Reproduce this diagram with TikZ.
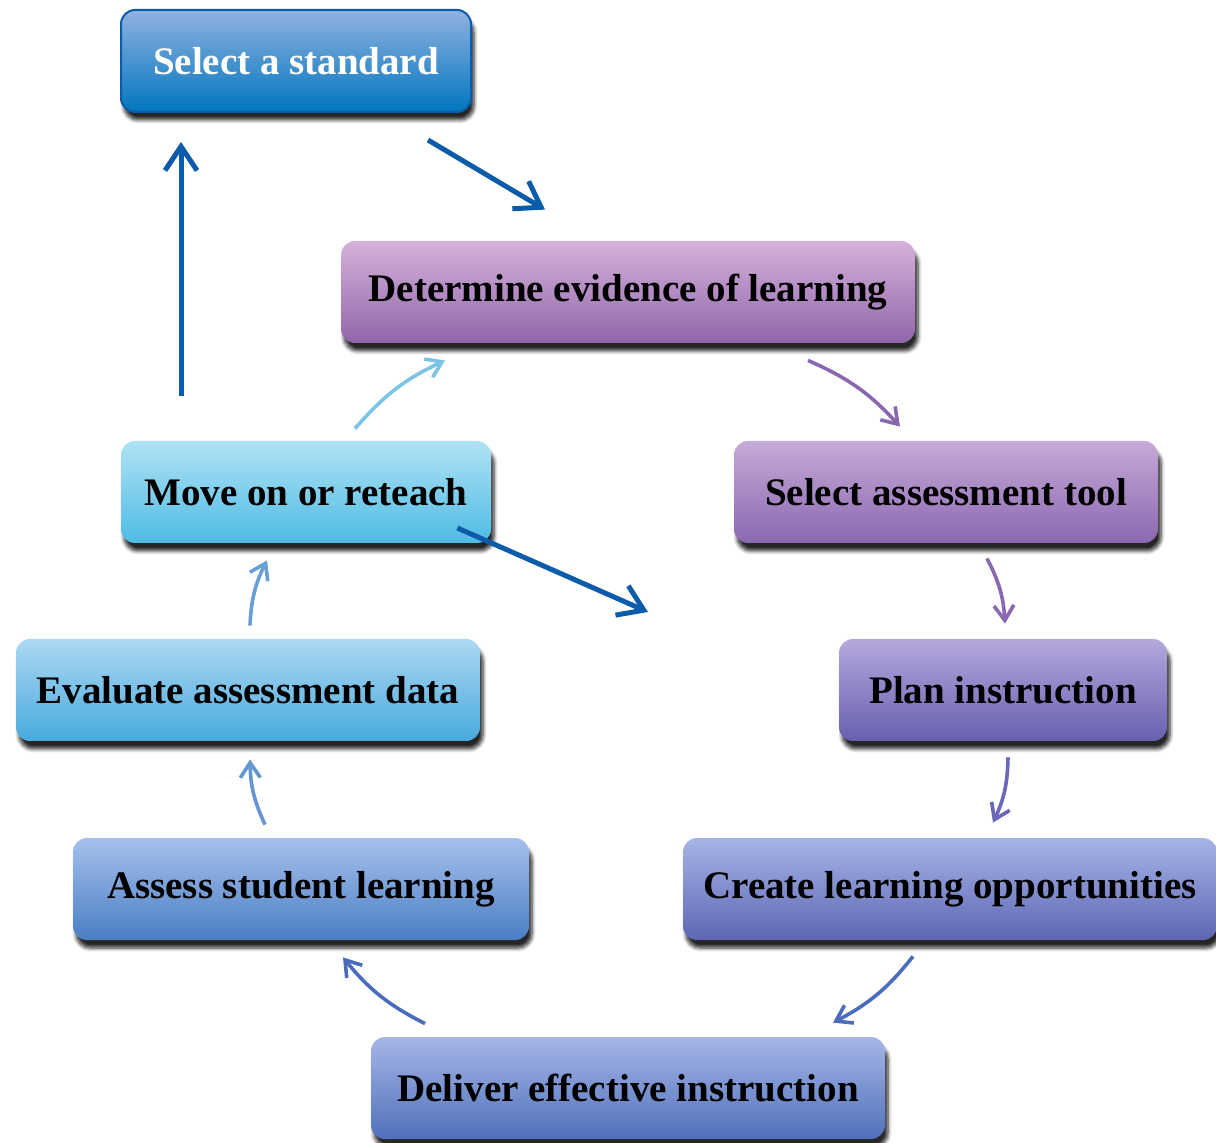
\documentclass[tikz,border=0pt]{standalone}
\usepackage{fontspec}
\setmainfont{Liberation Serif}
\usepackage{tikz}
\usetikzlibrary{arrows.meta,shadows.blur}

\definecolor{stdline}{RGB}{10,92,170}
\definecolor{stdtop}{RGB}{145,178,224}
\definecolor{stdbot}{RGB}{0,118,190}
\definecolor{evidtop}{RGB}{212,178,218}
\definecolor{evidbot}{RGB}{145,102,170}
\definecolor{tooltop}{RGB}{198,170,216}
\definecolor{toolbot}{RGB}{138,104,176}
\definecolor{plantop}{RGB}{180,168,220}
\definecolor{planbot}{RGB}{104,96,176}
\definecolor{createtop}{RGB}{166,180,230}
\definecolor{createbot}{RGB}{94,102,180}
\definecolor{delivtop}{RGB}{166,182,232}
\definecolor{delivbot}{RGB}{80,112,186}
\definecolor{assesstop}{RGB}{166,192,236}
\definecolor{assessbot}{RGB}{74,126,196}
\definecolor{evaltop}{RGB}{172,216,242}
\definecolor{evalbot}{RGB}{72,170,222}
\definecolor{movetop}{RGB}{176,226,244}
\definecolor{movebot}{RGB}{78,188,228}
\definecolor{lightarr}{RGB}{124,196,228}
\definecolor{purparr}{RGB}{138,104,176}
\definecolor{violarr}{RGB}{106,104,184}
\definecolor{bluearr}{RGB}{74,108,186}
\definecolor{skyarr}{RGB}{100,150,208}

\begin{document}
\begin{tikzpicture}[
  x=0.5pt, y=0.5pt,
  stepbox/.style={rounded corners=7pt, minimum height=51pt, inner sep=4pt,
    font=\bfseries\fontsize{19.5}{22}\selectfont, text=black,
    blur shadow={shadow xshift=1.5pt, shadow yshift=-4pt, shadow blur steps=6, shadow opacity=85}},
  main/.style={stdline, line width=2.5pt, -{Straight Barb[length=12pt,width=16pt]}},
  flow/.style={line width=1.8pt, -{Straight Barb[length=7.5pt,width=10pt]}, bend left=12}
]
\useasboundingbox (0,0) rectangle (1216,1142);

% the cycle of steps
\node[stepbox, minimum width=175pt, top color=stdtop, bottom color=stdbot, draw=stdline, line width=1pt, text=white] (std) at (296,1081) {Select a standard};
\node[stepbox, minimum width=287pt, top color=evidtop, bottom color=evidbot] (evid) at (628,850) {Determine evidence of learning};
\node[stepbox, minimum width=212pt, top color=tooltop, bottom color=toolbot] (tool) at (946,650) {Select assessment tool};
\node[stepbox, minimum width=164pt, top color=plantop, bottom color=planbot] (plan) at (1003,452) {Plan instruction};
\node[stepbox, minimum width=267pt, top color=createtop, bottom color=createbot] (create) at (950,253) {Create learning opportunities};
\node[stepbox, minimum width=257pt, top color=delivtop, bottom color=delivbot] (deliver) at (628,54) {Deliver effective instruction};
\node[stepbox, minimum width=228pt, top color=assesstop, bottom color=assessbot] (assess) at (301,253) {Assess student learning};
\node[stepbox, minimum width=232pt, top color=evaltop, bottom color=evalbot] (eval) at (248,452) {Evaluate assessment data};
\node[stepbox, minimum width=185pt, top color=movetop, bottom color=movebot] (move) at (306,650) {Move on or reteach};
\coordinate (hub) at (648,530);

% heavy arrows
\draw[main] ([xshift=-22pt,yshift=-13.5pt]std.south east) -- ([xshift=-41.5pt,yshift=15.5pt]evid.north);
\draw[main] ([xshift=-62.5pt,yshift=22.5pt]move.north) -- ([xshift=-57.5pt,yshift=-14.5pt]std.south);
\draw[main] ([xshift=-17pt,yshift=-18pt]move.east) -- (hub);

% curved arrows round the cycle
\draw[flow, lightarr] ([xshift=24.5pt,yshift=6pt]move.north) to ([xshift=-91.5pt,yshift=-8.5pt]evid.south);
\draw[flow, purparr] ([xshift=90pt,yshift=-8.5pt]evid.south) to ([xshift=-23pt,yshift=7pt]tool.north);
\draw[flow, purparr] ([xshift=20.5pt,yshift=-7.5pt]tool.south) to ([xshift=1pt,yshift=7.5pt]plan.north);
\draw[flow, violarr] ([xshift=2.5pt,yshift=-8pt]plan.south) to ([xshift=21.5pt,yshift=7.5pt]create.north);
\draw[flow, bluearr] ([xshift=-18.5pt,yshift=-8pt]create.south) to ([xshift=102.5pt,yshift=7pt]deliver.north);
\draw[flow, bluearr] ([xshift=-101.5pt,yshift=6.5pt]deliver.north) to ([xshift=21pt,yshift=-8.5pt]assess.south);
\draw[flow, skyarr] ([xshift=-18pt,yshift=6.5pt]assess.north) to ([xshift=1pt,yshift=-9pt]eval.south);
\draw[flow, skyarr!80!lightarr] ([xshift=1pt,yshift=6.5pt]eval.north) to ([xshift=-19.5pt,yshift=-8.5pt]move.south);
\end{tikzpicture}
\end{document}
